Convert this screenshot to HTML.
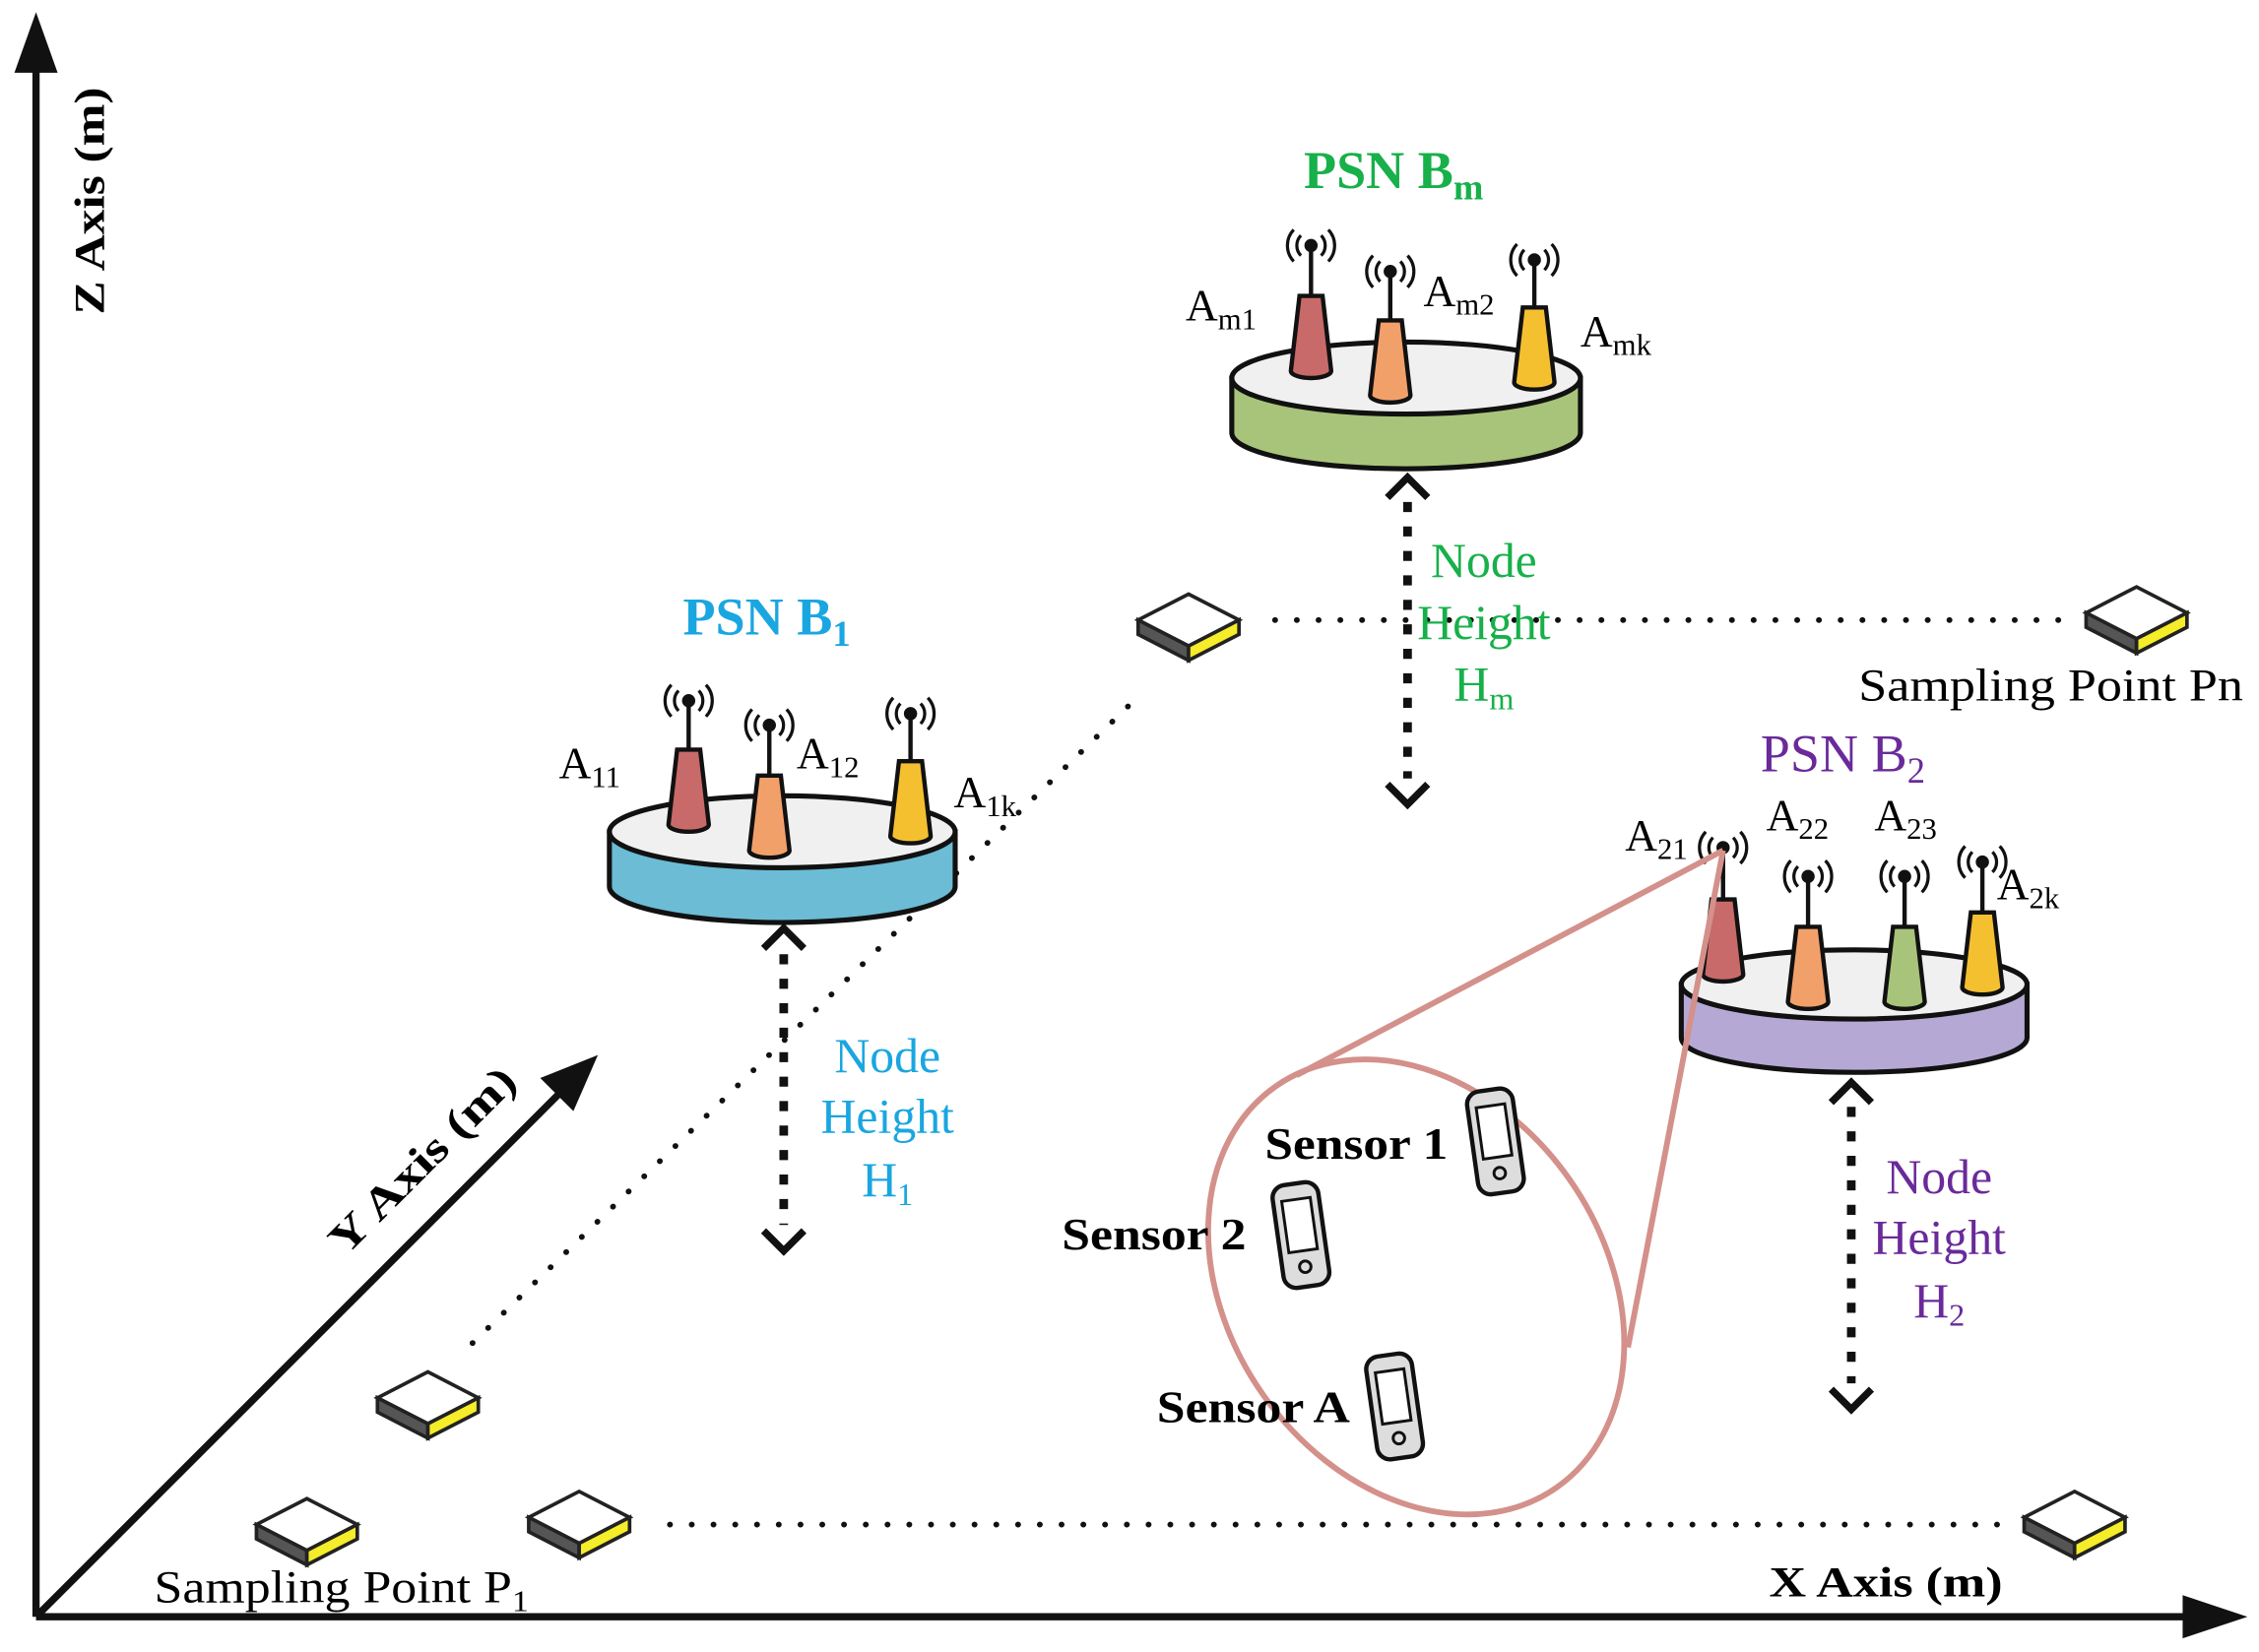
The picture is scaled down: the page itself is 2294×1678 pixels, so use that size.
<!DOCTYPE html>
<html><head><meta charset="utf-8"><style>
html,body{margin:0;padding:0;background:#fff}
svg{display:block}
text{font-family:"Liberation Serif",serif}
</style></head><body>
<svg width="2294" height="1678" viewBox="0 0 1568 1146" xmlns="http://www.w3.org/2000/svg">
<defs>
<g id="tile">
<polygon points="-35,0 0,-18 35,0 0,18" fill="#fff" stroke="#222" stroke-width="2.5"/>
<polygon points="-35,0 0,18 0,28 -35,10" fill="#555" stroke="#222" stroke-width="2.5"/>
<polygon points="0,18 35,0 35,10 0,28" fill="#f5ec2a" stroke="#222" stroke-width="2.5"/>
</g>
<g id="waves" fill="none" stroke="#111" stroke-width="2.2">
<circle cx="0" cy="0" r="3.5" fill="#111"/>
<path d="M-7,-7 A10,10 0 0 0 -7,7 M7,-7 A10,10 0 0 1 7,7"/>
<path d="M-12,-11 A16,16 0 0 0 -12,11 M12,-11 A16,16 0 0 1 12,11"/>
</g>
<g id="chev" fill="none" stroke="#111" stroke-width="5"><path d="M-14,8 L0,-6 L14,8"/></g>
<g id="chevd" fill="none" stroke="#111" stroke-width="5"><path d="M-14,-6 L0,8 L14,-6"/></g>
<g id="phone">
<rect x="-16" y="-36" width="32" height="72" rx="9" fill="#ddd" stroke="#111" stroke-width="3" transform="rotate(-8)"/>
<rect x="-10" y="-25" width="20" height="36" fill="#fff" stroke="#111" stroke-width="2" transform="rotate(-8)"/>
<circle cx="3" cy="22" r="4" fill="none" stroke="#111" stroke-width="2"/>
</g>
</defs>

<!-- axes -->
<g stroke="#111" stroke-width="5" fill="none">
<line x1="25" y1="1122" x2="25" y2="45"/>
<line x1="25" y1="1122" x2="1520" y2="1122"/>
<line x1="25" y1="1122" x2="390" y2="757"/>
</g>
<polygon points="25,8 10,50 40,50" fill="#111"/>
<polygon points="1560,1122 1515,1107 1515,1137" fill="#111"/>
<polygon points="415,732 375,748 398,771" fill="#111"/>
<text transform="translate(72,139) rotate(-90)" font-size="30" font-weight="bold" text-anchor="middle" textLength="158" lengthAdjust="spacingAndGlyphs">Z Axis (m)</text>
<text transform="translate(300,812) rotate(-45)" font-size="30" font-weight="bold" text-anchor="middle" textLength="170" lengthAdjust="spacingAndGlyphs">Y Axis (m)</text>
<text x="1228" y="1108" font-size="30" font-weight="bold" textLength="162" lengthAdjust="spacingAndGlyphs">X Axis (m)</text>

<!-- dotted lines -->
<g stroke="#111" stroke-width="4" stroke-dasharray="0.1 15" stroke-linecap="round" fill="none">
<line x1="465" y1="1058" x2="1390" y2="1058"/>
<line x1="328" y1="932" x2="785" y2="488"/>
<line x1="885" y1="430" x2="1430" y2="430"/>
</g>

<!-- tiles -->
<use href="#tile" x="213" y="1058"/>
<use href="#tile" x="402" y="1053"/>
<use href="#tile" x="1440" y="1053"/>
<use href="#tile" x="297" y="970"/>
<use href="#tile" x="825" y="430"/>
<use href="#tile" x="1483" y="425"/>
<text x="107" y="1112" font-size="32" textLength="260" lengthAdjust="spacingAndGlyphs">Sampling Point P<tspan font-size="21" dy="6">1</tspan></text>
<text x="1290" y="486" font-size="32" textLength="267" lengthAdjust="spacingAndGlyphs">Sampling Point Pn</text>

<!-- height arrows -->
<g stroke="#111" stroke-width="6" stroke-dasharray="7 10" fill="none">
<line x1="544" y1="662" x2="544" y2="850"/>
<line x1="977" y1="348" x2="977" y2="540"/>
<line x1="1285" y1="768" x2="1285" y2="960"/>
</g>
<use href="#chev" x="544" y="650"/><use href="#chevd" x="544" y="860"/>
<use href="#chev" x="977" y="337"/><use href="#chevd" x="977" y="550"/>
<use href="#chev" x="1285" y="757"/><use href="#chevd" x="1285" y="970"/>

<!-- platforms -->
<g stroke="#111" stroke-width="3.5">
<path d="M423,577 L423,615 A120,25 0 0 0 663,615 L663,577 Z" fill="#6bbcd4"/>
<ellipse cx="543" cy="577" rx="120" ry="25" fill="#f0f0f0"/>
<path d="M855,262 L855,300 A121,25 0 0 0 1097,300 L1097,262 Z" fill="#a8c47a"/>
<ellipse cx="976" cy="262" rx="121" ry="25" fill="#f0f0f0"/>
<path d="M1167,683 L1167,720 A120,24 0 0 0 1407,720 L1407,683 Z" fill="#b6a8d4"/>
<ellipse cx="1287" cy="683" rx="120" ry="24" fill="#f0f0f0"/>
</g>

<g stroke="#111" stroke-width="3">
<line x1="478" y1="488" x2="478" y2="520"/><path d="M470,520 L486,520 L492,572 A14,5 0 0 1 464,572 Z" fill="#c86a6a"/>
<line x1="534" y1="505" x2="534" y2="538"/><path d="M526,538 L542,538 L548,590 A14,5 0 0 1 520,590 Z" fill="#f2a06a"/>
<line x1="632" y1="497" x2="632" y2="528"/><path d="M624,528 L640,528 L646,580 A14,5 0 0 1 618,580 Z" fill="#f5c030"/>
<line x1="910" y1="172" x2="910" y2="205"/><path d="M902,205 L918,205 L924,257 A14,5 0 0 1 896,257 Z" fill="#c86a6a"/>
<line x1="965" y1="190" x2="965" y2="222"/><path d="M957,222 L973,222 L979,274 A14,5 0 0 1 951,274 Z" fill="#f2a06a"/>
<line x1="1065" y1="182" x2="1065" y2="213"/><path d="M1057,213 L1073,213 L1079,265 A14,5 0 0 1 1051,265 Z" fill="#f5c030"/>
<line x1="1196" y1="590" x2="1196" y2="624"/><path d="M1188,624 L1204,624 L1210,676 A14,5 0 0 1 1182,676 Z" fill="#c86a6a"/>
<line x1="1255" y1="610" x2="1255" y2="643"/><path d="M1247,643 L1263,643 L1269,695 A14,5 0 0 1 1241,695 Z" fill="#f2a06a"/>
<line x1="1322" y1="610" x2="1322" y2="643"/><path d="M1314,643 L1330,643 L1336,695 A14,5 0 0 1 1308,695 Z" fill="#a8c47a"/>
<line x1="1376" y1="600" x2="1376" y2="633"/><path d="M1368,633 L1384,633 L1390,685 A14,5 0 0 1 1362,685 Z" fill="#f5c030"/>
</g>
<use href="#waves" x="478" y="486"/><use href="#waves" x="534" y="503"/><use href="#waves" x="632" y="495"/>
<use href="#waves" x="910" y="170"/><use href="#waves" x="965" y="188"/><use href="#waves" x="1065" y="180"/>
<use href="#waves" x="1196" y="588"/><use href="#waves" x="1255" y="608"/><use href="#waves" x="1322" y="608"/><use href="#waves" x="1376" y="598"/>

<g font-size="31">
<text x="388" y="540">A<tspan font-size="21" dy="6">11</tspan></text>
<text x="553" y="533">A<tspan font-size="21" dy="6">12</tspan></text>
<text x="662" y="560">A<tspan font-size="21" dy="6">1k</tspan></text>
<text x="823" y="222">A<tspan font-size="21" dy="6">m1</tspan></text>
<text x="988" y="212">A<tspan font-size="21" dy="6">m2</tspan></text>
<text x="1097" y="240">A<tspan font-size="21" dy="6">mk</tspan></text>
<text x="1128" y="590">A<tspan font-size="21" dy="6">21</tspan></text>
<text x="1226" y="576">A<tspan font-size="21" dy="6">22</tspan></text>
<text x="1301" y="576">A<tspan font-size="21" dy="6">23</tspan></text>
<text x="1386" y="624">A<tspan font-size="21" dy="6">2k</tspan></text>
</g>
<text x="474" y="440" font-size="37" font-weight="bold" fill="#1aa6e0">PSN B<tspan font-size="25" dy="8">1</tspan></text>
<text x="905" y="130" font-size="37" font-weight="bold" fill="#17b04a">PSN B<tspan font-size="25" dy="8">m</tspan></text>
<text x="1222" y="535" font-size="37" fill="#6a2a9a">PSN  B<tspan font-size="25" dy="8">2</tspan></text>
<g font-size="34" text-anchor="middle">
<text x="616" y="744" fill="#1aa6e0">Node</text><text x="616" y="786" fill="#1aa6e0">Height</text><text x="616" y="830" fill="#1aa6e0">H<tspan font-size="22" dy="6">1</tspan></text>
<text x="1030" y="400" fill="#17b04a">Node</text><text x="1030" y="443" fill="#17b04a">Height</text><text x="1030" y="486" fill="#17b04a">H<tspan font-size="22" dy="6">m</tspan></text>
<text x="1346" y="828" fill="#6a2a9a">Node</text><text x="1346" y="870" fill="#6a2a9a">Height</text><text x="1346" y="914" fill="#6a2a9a">H<tspan font-size="22" dy="6">2</tspan></text>
</g>

<g stroke="#d4908a" stroke-width="4" fill="none">
<line x1="1196" y1="590" x2="900" y2="746"/>
<line x1="1196" y1="590" x2="1130" y2="935"/>
<ellipse cx="983" cy="893" rx="170" ry="130" transform="rotate(55 983 893)"/>
</g>
<use href="#phone" x="1038" y="792"/>
<use href="#phone" x="903" y="857"/>
<use href="#phone" x="968" y="976"/>
<g font-size="31" font-weight="bold">
<text x="878" y="804" textLength="127" lengthAdjust="spacingAndGlyphs">Sensor 1</text>
<text x="737" y="867" textLength="128" lengthAdjust="spacingAndGlyphs">Sensor 2</text>
<text x="803" y="987" textLength="134" lengthAdjust="spacingAndGlyphs">Sensor A</text>
</g>
</svg>
</body></html>
